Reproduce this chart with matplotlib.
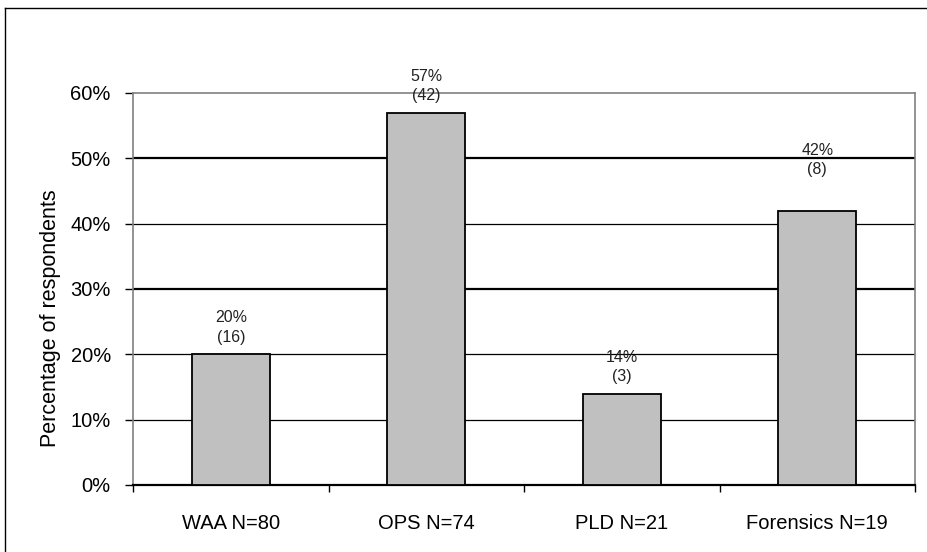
import numpy as np
import matplotlib.pyplot as plt
from matplotlib.lines import Line2D

plt.rcParams['font.family'] = ['Liberation Sans', 'DejaVu Sans']

groups = ['WAA N=80', 'OPS N=74', 'PLD N=21', 'Forensics N=19']
percent = [20, 57, 14, 42]
counts = [16, 42, 3, 8]
# how far above each bar its label sits (points)
label_lift = [7, 7, 7, 24]

fig = plt.figure(figsize=(9.27, 5.52), dpi=100)
ax = fig.add_axes([133/927, 1 - 485/552, (915 - 133)/927, (485 - 93)/552])

x = np.arange(len(groups))
ax.bar(x, percent, width=0.4, color='#c0c0c0', edgecolor='black', linewidth=1.3, zorder=3)

ax.set_xlim(-0.5, len(groups) - 0.5)
ax.set_ylim(0, 60)

# gridlines, some drawn heavier like the original
for yv in [10, 20, 30, 40, 50]:
    lw = 1.6 if yv in (30, 50) else 0.9
    ax.axhline(yv, color='black', linewidth=lw, zorder=1)

for xi, p, c, lift in zip(x, percent, counts, label_lift):
    ax.annotate(f'{p}%\n({c})', (xi, p), xytext=(0, lift), textcoords='offset points',
                ha='center', va='bottom', fontsize=11.5, color='#222222', linespacing=1.35)

ax.set_yticks(np.arange(0, 61, 10))
ax.set_yticklabels([f'{v}%' for v in range(0, 61, 10)], fontsize=14.5)
ax.tick_params(axis='y', length=6, width=1, pad=10, direction='out')

ax.set_xticks(x)
ax.set_xticklabels(groups, fontsize=14.5)
ax.tick_params(axis='x', length=0, pad=21)
ax.set_xticks(np.arange(-0.5, len(groups), 1), minor=True)
ax.tick_params(axis='x', which='minor', length=5, width=1, direction='out')

for side in ['top', 'right', 'left']:
    ax.spines[side].set_color('#808080')
    ax.spines[side].set_linewidth(1.2)
ax.spines['bottom'].set_color('black')
ax.spines['bottom'].set_linewidth(1.6)

fig.text(51/927, 1 - 318/552, 'Percentage of respondents', rotation=90,
         ha='center', va='center', fontsize=15.5)

# outer frame
fig.add_artist(Line2D([5/927, 1.0], [1 - 8/552, 1 - 8/552], color='black', linewidth=1))
fig.add_artist(Line2D([5/927, 5/927], [0.0, 1 - 8/552], color='black', linewidth=1))

fig.savefig('out.png', dpi=100)
